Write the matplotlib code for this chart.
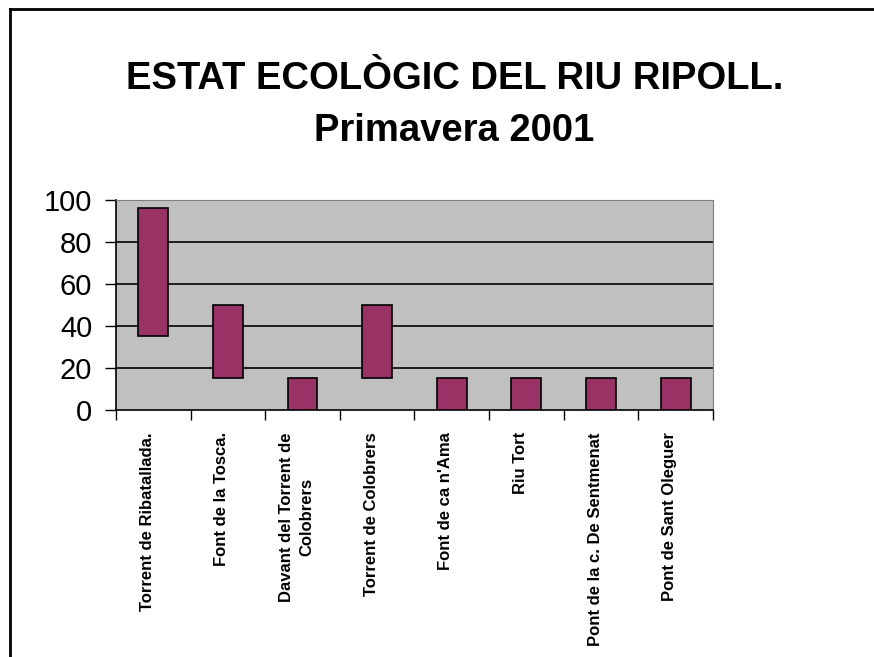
import matplotlib
matplotlib.use("Agg")
import matplotlib.pyplot as plt
from matplotlib.lines import Line2D

# Data (floating bars: low .. high)
stations = ["Torrent de Ribatallada.",
            "Font de la Tosca.",
            "Davant del Torrent de\nColobrers",
            "Torrent de Colobrers",
            "Font de ca n'Ama",
            "Riu Tort",
            "Pont de la c. De Sentmenat",
            "Pont de Sant Oleguer"]
low_vals = [35, 15, 0, 15, 0, 0, 0, 0]
high_vals = [96, 50, 15, 50, 15, 15, 15, 15]
y_ticks = [0, 20, 40, 60, 80, 100]

fnt = ["Liberation Sans Narrow", "Liberation Sans", "DejaVu Sans"]

fig = plt.figure(figsize=(8.74, 6.57), dpi=100)
ax = fig.add_axes([0.1327, 0.376, 0.683, 0.3196])
ax.set_facecolor("#C0C0C0")

x = range(len(stations))
heights = [h - l for l, h in zip(low_vals, high_vals)]
ax.bar(x, heights, bottom=low_vals, width=0.4, color="#993366",
       edgecolor="black", linewidth=1.2, zorder=3)

ax.set_xlim(-0.5, len(stations) - 0.5)
ax.set_ylim(0, 100)
ax.set_yticks(y_ticks)
ax.set_yticklabels([str(v) for v in y_ticks], family=fnt, fontsize=21)
ax.tick_params(axis="y", length=8, width=1, pad=9)

# grid lines
for v in y_ticks[1:-1]:
    ax.axhline(v, color="black", linewidth=1.2, zorder=1)

# x ticks at category boundaries, labels at centres
ax.set_xticks([i - 0.5 for i in range(len(stations) + 1)])
ax.set_xticklabels([])
ax.tick_params(axis="x", length=7, width=1, direction="out")
ax.set_xticks([i - 0.08 for i in x], minor=True)
ax.set_xticklabels(stations, minor=True, rotation=90, fontsize=12,
                   fontweight="bold", va="top", ha="center", family=fnt,
                   linespacing=1.4)
ax.tick_params(axis="x", which="minor", length=0, pad=16)

for s in ["top", "right"]:
    ax.spines[s].set_color("#808080")
for s in ["left", "bottom"]:
    ax.spines[s].set_color("black")
    ax.spines[s].set_linewidth(1.2)

fig.text(0.520, 0.880, "ESTAT ECOLÒGIC DEL RIU RIPOLL.", ha="center", va="center",
         fontsize=27.5, fontweight="bold", family=fnt)
fig.text(0.520, 0.800, "Primavera 2001", ha="center", va="center",
         fontsize=27.5, fontweight="bold", family=fnt)

# outer chart frame (left and top edges visible)
fig.add_artist(Line2D([0.011, 0.011], [0.0, 0.987], color="black", linewidth=2,
                      transform=fig.transFigure))
fig.add_artist(Line2D([0.011, 1.0], [0.987, 0.987], color="black", linewidth=2,
                      transform=fig.transFigure))

fig.savefig("out.png", dpi=100)
